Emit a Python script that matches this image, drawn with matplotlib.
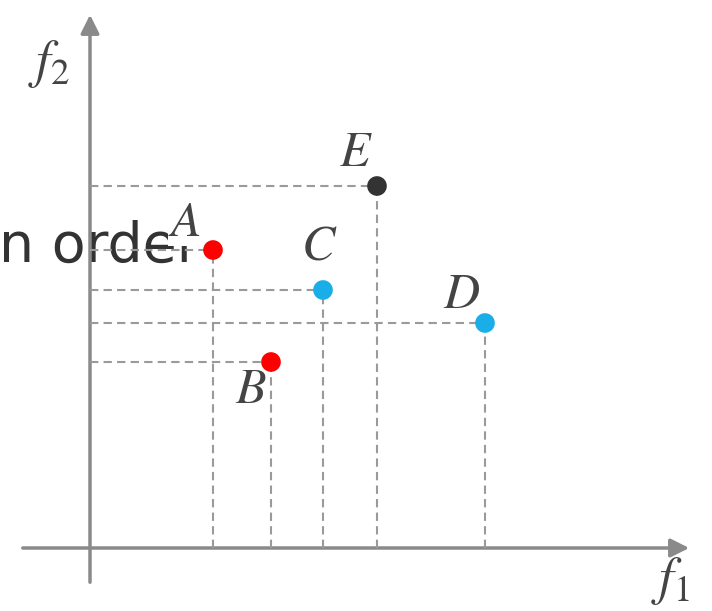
import matplotlib.pyplot as plt

plt.rcParams['mathtext.fontset'] = 'stix'

# points in objective space (f1, f2), origin at the axes crossing
names = ['A', 'B', 'C', 'D', 'E']
f1 = [123, 181, 233, 395, 287]
f2 = [298, 186, 258, 225, 362]
colors = ['#ff0000', '#ff0000', '#1aaee8', '#1aaee8', '#333333']

fig = plt.figure(figsize=(7.12, 6.11), dpi=100)
ax = fig.add_axes([0, 0, 1, 1])
ax.set_xlim(-90, 622)
ax.set_ylim(-63, 548)
ax.axis('off')

# leftover slide text behind the chart
ax.text(-91, 286, 'n order', fontsize=40, color='#333333', family='DejaVu Sans',
        ha='left', va='baseline', zorder=1)

# axes with arrow heads
ax.annotate('', xy=(602, 0), xytext=(-70, 0),
            arrowprops=dict(arrowstyle='-|>', color='#8a8a8a', lw=2.5, mutation_scale=28))
ax.annotate('', xy=(0, 536), xytext=(0, -37),
            arrowprops=dict(arrowstyle='-|>', color='#8a8a8a', lw=2.5, mutation_scale=28))

for x, y in zip(f1, f2):
    ax.plot([0, x], [y, y], color='#9a9a9a', lw=1.5, ls=(0, (4, 2.5)), zorder=3)
    ax.plot([x, x], [0, y], color='#9a9a9a', lw=1.5, ls=(0, (4, 2.5)), zorder=3)

ax.scatter(f1, f2, s=200, c=colors, zorder=4, edgecolors='none')

# label offsets (in data units) per point
offs = {'A': (-29, 4), 'B': (-20, -51), 'C': (-4, 21), 'D': (-23, 5), 'E': (-21, 10)}
for n, x, y in zip(names, f1, f2):
    dx, dy = offs[n]
    ax.text(x + dx, y + dy, '$' + n + '$', fontsize=36, color='#444444',
            ha='center', va='bottom', zorder=2,
            bbox=dict(facecolor='white', edgecolor='none', pad=0) if n == 'A' else None)

ax.text(-41, 458, '$f_2$', fontsize=38, color='#444444', ha='center', va='bottom')
ax.text(580, -59, '$f_1$', fontsize=38, color='#444444', ha='center', va='bottom')

fig.savefig('out.png', dpi=100)
